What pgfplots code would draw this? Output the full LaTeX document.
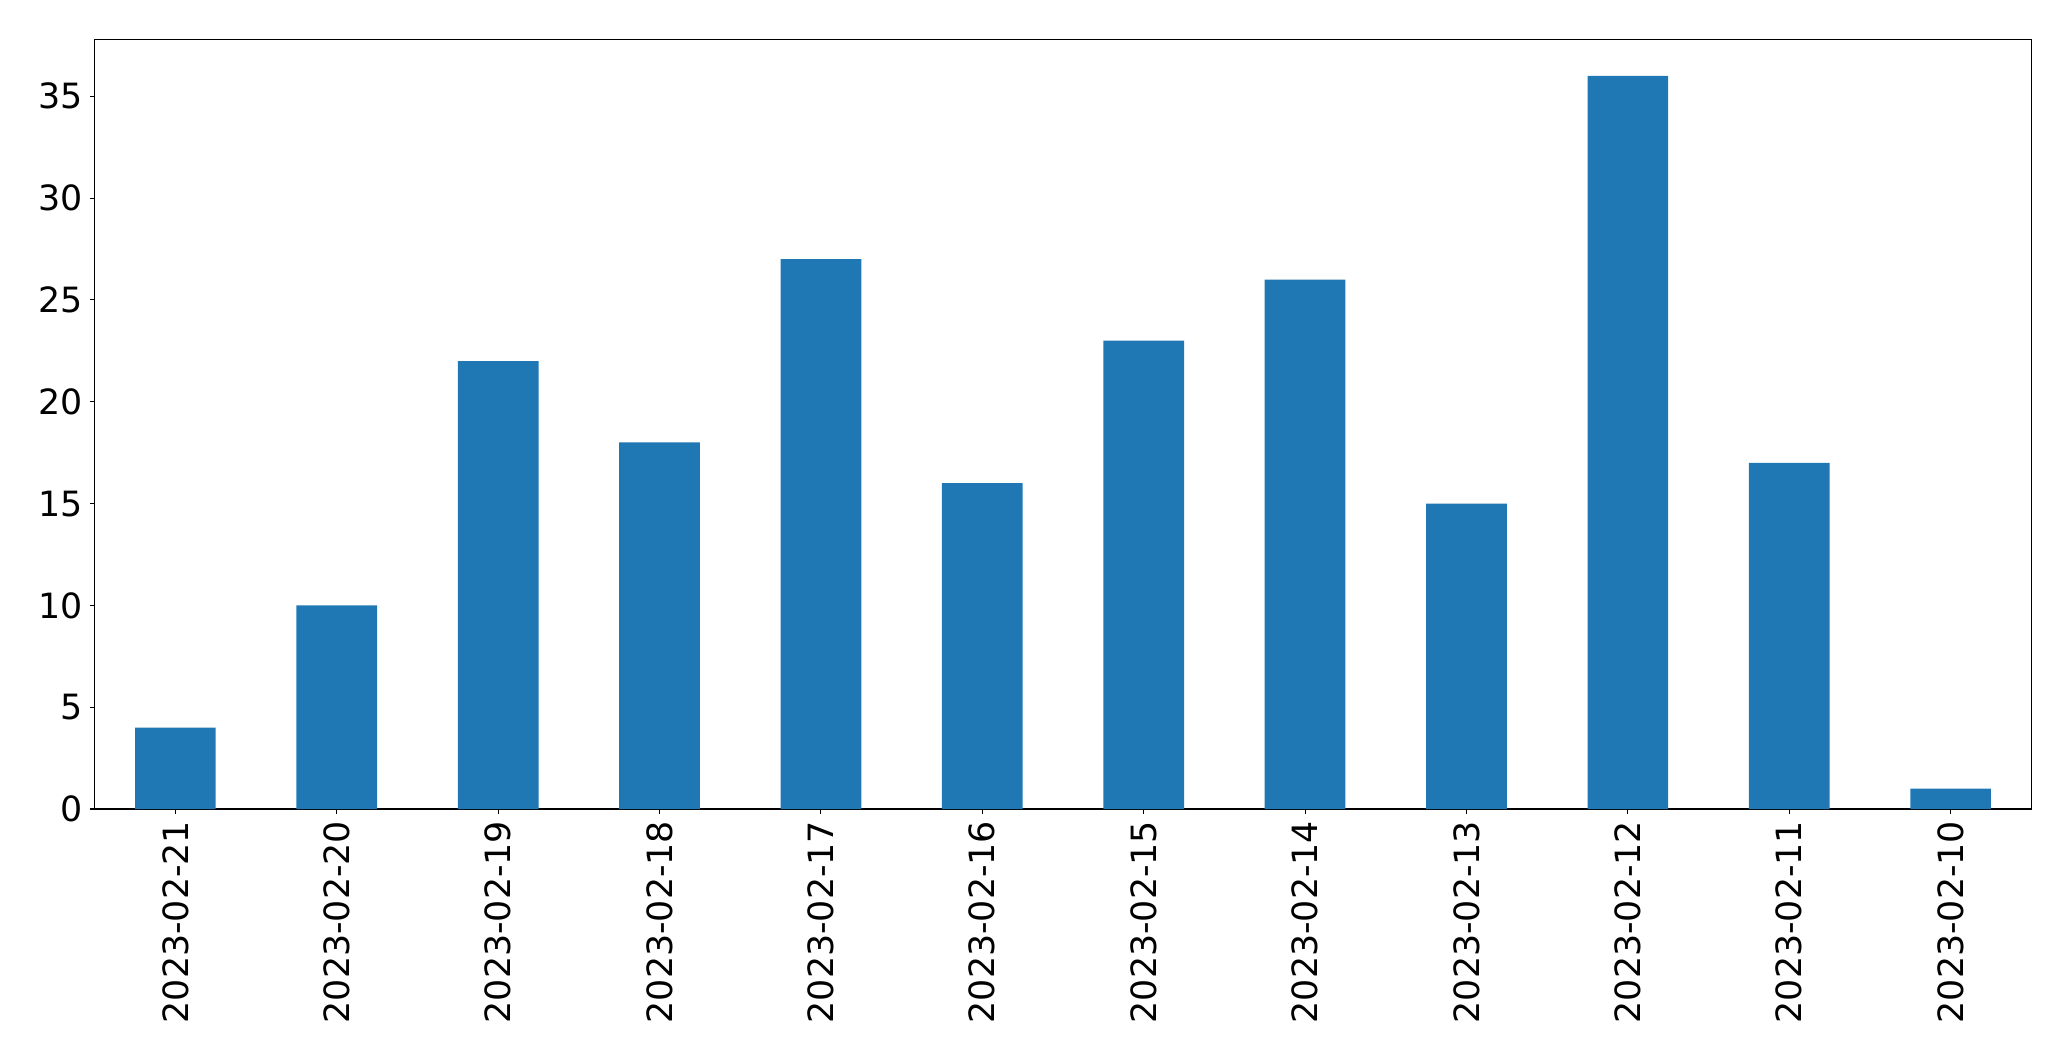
\documentclass[border=0pt]{standalone}
\usepackage{pgfplots}
\pgfplotsset{compat=1.18}
\usepackage{fontspec}
\setmainfont{DejaVu Sans}
\definecolor{tabblue}{HTML}{1F77B4}
\begin{document}
\begin{tikzpicture}
\path[use as bounding box] (-47.35pt,-126pt) rectangle (988.15pt,404.5pt);
\begin{axis}[
  at={(0,0)}, anchor=south west,
  scale only axis,
  width=968.3pt, height=384.85pt,
  xmin=-0.5, xmax=11.5,
  ymin=0, ymax=37.8,
  xtick={0,...,11},
  xticklabels={2023-02-21,2023-02-20,2023-02-19,2023-02-18,2023-02-17,2023-02-16,2023-02-15,2023-02-14,2023-02-13,2023-02-12,2023-02-11,2023-02-10},
  ytick={0,5,10,15,20,25,30,35},
  tick align=outside,
  major tick length=2.43pt,
  tick style={black, line width=0.55pt},
  axis line style={line width=0.55pt},
  xtick pos=bottom, ytick pos=left,
  /pgf/number format/assume math mode=true,
  tick label style={font=\fontsize{17.4}{20}\selectfont},
  xticklabel style={rotate=90, anchor=east},
  enlargelimits=false,
  axis on top=false,
]
\addplot[ybar, bar width=0.5, fill=tabblue, draw=none] coordinates {
(0,4) (1,10) (2,22) (3,18) (4,27) (5,16) (6,23) (7,26) (8,15) (9,36) (10,17) (11,1)
};
\end{axis}
\end{tikzpicture}
\end{document}
